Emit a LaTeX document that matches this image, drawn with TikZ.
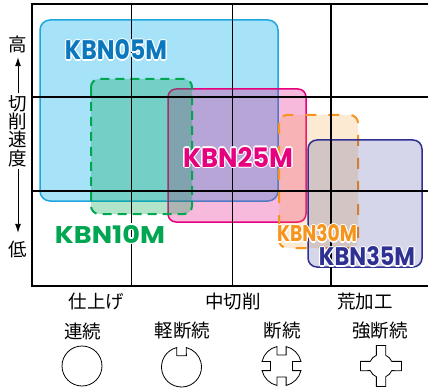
\documentclass[tikz,border=0pt]{standalone}
\usepackage{graphicx}
\usepackage{fontspec}
\newfontfamily\cjk{Noto Sans CJK JP}
\newfontfamily\lblfont{Poppins}
\usetikzlibrary{arrows.meta}
\definecolor{cy}{HTML}{00AEEF}
\definecolor{cyline}{HTML}{1FA6DE}
\definecolor{cytext}{HTML}{0B77BD}
\definecolor{mg}{HTML}{E6007E}
\definecolor{gr}{HTML}{00A651}
\definecolor{og}{HTML}{F7941D}
\definecolor{nv}{HTML}{2E3192}
\tikzset{
  lbltxt/.style={inner sep=0pt, font=\lblfont\bfseries},
  jp/.style={inner sep=0pt, font=\cjk\fontsize{18.5}{18.3}\selectfont},
  arr/.style={line width=0.9pt, -{Latex[length=9pt,width=6pt]}},
  frameline/.style={line width=2.6pt},
  thickgrid/.style={line width=2pt},
  thingrid/.style={line width=1pt},
  iconline/.style={line width=0.8pt},
  box05/.style={draw=cyline, line width=1.5pt, fill=cy, fill opacity=0.35, rounded corners=10pt},
  box25/.style={draw=mg, line width=1.5pt, fill=mg, fill opacity=0.27, rounded corners=8pt},
  box10/.style={draw=gr, line width=2pt, dash pattern=on 9pt off 6pt, fill=gr, fill opacity=0.3, rounded corners=8pt},
  box30/.style={draw=og, line width=2pt, dash pattern=on 11pt off 12pt, fill=og, fill opacity=0.2, rounded corners=8pt},
  box35/.style={draw=nv, line width=1.5pt, fill=nv, fill opacity=0.2, rounded corners=9pt},
}
\newcommand\kbnlabel[6]{%
  \foreach \dx/\dy in {1.3/0,-1.3/0,0/1.3,0/-1.3,.9/.9,-.9/.9,.9/-.9,-.9/-.9}{%
    \node[lbltxt,text=white] at ([xshift=\dx pt,yshift=\dy pt]#2) {\resizebox{#4pt}{#5pt}{#6}};}
  \node[lbltxt,text=#3] (#1) at (#2) {\resizebox{#4pt}{#5pt}{#6}};}
\begin{document}
\begin{tikzpicture}[x=1pt,y=-1pt]
\useasboundingbox (0,0) rectangle (428,390);
% boxes
\path[box05] (40,20) rectangle (278,201);
\path[box25] (168,89) rectangle (306,222);
\path[box10] (91,79) rectangle (192,214);
\path[box30] (279,115) rectangle (358,248);
\path[box35] (308,140) rectangle (422,267);
% frame and grid
\draw[thingrid] (131,4) -- (131,286);
\draw[thingrid] (232,4) -- (232,286);
\draw[thickgrid] (331,4) -- (331,286);
\draw[thickgrid] (32,97.5) -- (430,97.5);
\draw[thickgrid] (32,191.5) -- (430,191.5);
\draw[frameline] (430,4) -- (32,4) -- (32,286) -- (430,286);
% labels
\kbnlabel{l05}{116,50}{cytext}{102}{20}{KBN05M}
\kbnlabel{l10}{110,234}{gr}{110}{18}{KBN10M}
\kbnlabel{l25}{238,157}{mg}{110}{20}{KBN25M}
\kbnlabel{l30}{317,233.5}{og}{80}{17}{KBN30M}
\kbnlabel{l35}{367,256.5}{nv}{96}{19}{KBN35M}
% vertical axis
\node[jp, minimum height=26pt] (hi) at (18,44) {高};
\node[jp, outer sep=2pt, align=center] (ax) at (18,131) {切\\削\\速\\度};
\node[jp, minimum height=32pt] (lo) at (18,249) {低};
\draw[arr] (ax.north) -- (hi.south);
\draw[arr] (ax.south) -- (lo.north);
% bottom labels
\node[jp] (fin) at (96.5,301) {仕上げ};
\node[jp] (mid) at (233,301) {中切削};
\node[jp] (rough) at (365,301) {荒加工};
\node[jp] (cont) at (82.5,331) {連続};
\node[jp] (light) at (182.5,331) {軽断続};
\node[jp] (inter) at (282,331) {断続};
\node[jp] (heavy) at (380,331) {強断続};
% workpiece icons
\draw[iconline] (82,366) circle[radius=20];
\begin{scope}[shift={(181.5,367)}, y=1pt]
  \draw[iconline] (104:20) arc[start angle=104, end angle=436, radius=20]
    -- (4.85,11.3) -- (-4.85,11.3) -- cycle;
\end{scope}
\begin{scope}[shift={(281.5,366)}, y=1pt]
  \draw[iconline] (13.3:20) arc[start angle=13.3, end angle=76.7, radius=20]
    -- (4.6,11) -- (-4.6,11) -- (103.3:20)
    arc[start angle=103.3, end angle=166.7, radius=20]
    -- (-11,4.6) -- (-11,-4.6) -- (193.3:20)
    arc[start angle=193.3, end angle=256.7, radius=20]
    -- (-4.6,-11) -- (4.6,-11) -- (283.3:20)
    arc[start angle=283.3, end angle=346.7, radius=20]
    -- (11,-4.6) -- (11,4.6) -- cycle;
\end{scope}
\begin{scope}[shift={(381,366)}, y=1pt]
  \draw[iconline] (23.4:11.7) arc[start angle=23.4, end angle=66.6, radius=11.7]
    -- (4.65,20.5) -- (-4.65,20.5) -- (113.4:11.7)
    arc[start angle=113.4, end angle=156.6, radius=11.7]
    -- (-20.5,4.65) -- (-20.5,-4.65) -- (203.4:11.7)
    arc[start angle=203.4, end angle=246.6, radius=11.7]
    -- (-4.65,-20.5) -- (4.65,-20.5) -- (293.4:11.7)
    arc[start angle=293.4, end angle=336.6, radius=11.7]
    -- (20.5,-4.65) -- (20.5,4.65) -- cycle;
\end{scope}
\end{tikzpicture}
\end{document}
